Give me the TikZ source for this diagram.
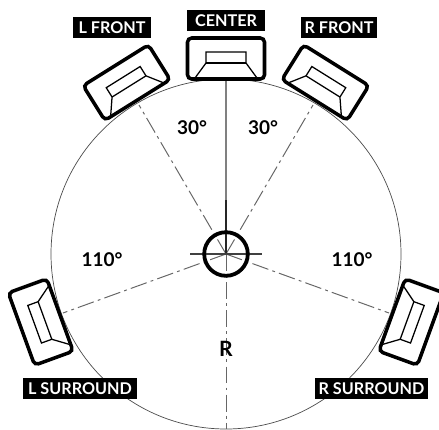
\documentclass[tikz,border=0pt]{standalone}
\usepackage{fontspec}
\setmainfont{Lato}
\usepackage{xcolor}
\usetikzlibrary{positioning,calc}

\begin{document}
\begin{tikzpicture}[
    x=0.025cm,y=-0.025cm,
    cabinet/.style={draw=black,fill=white,line width=2.5pt,rounded corners=3pt},
    horn/.style={draw=black,line width=0.9pt},
    ringline/.style={draw=black!70,line width=0.5pt},
    rayline/.style={draw=black!60,line width=0.7pt,dash pattern=on 12pt off 3pt on 2pt off 3pt},
    tagbox/.style={fill=black,text=white,font=\fontsize{11.5}{13}\selectfont\bfseries,
      inner sep=0pt,minimum height=15pt},
    angletext/.style={font=\fontsize{13.5}{15}\selectfont\bfseries,inner sep=0pt},
    speaker/.pic={
      \draw[cabinet] (-38.5,-41) rectangle (38.5,0);
      \draw[horn] (-31,-1) -- (-20,-16) -- (-20,-27) -- (20,-27) -- (20,-16) -- (31,-1);
      \draw[horn] (-20,-16) -- (20,-16);
    }
  ]
    \useasboundingbox (0,0) rectangle (439,429);

    \coordinate (mid) at (226,254);
    \coordinate (lfront) at (137.5,100);
    \coordinate (rfront) at (314.5,100);
    \coordinate (cfront) at (226,79);
    \coordinate (lsurr) at (60,315);
    \coordinate (rsurr) at (392,315);
    \coordinate (lray) at (139,105);
    \coordinate (rray) at (313,105);
    \coordinate (lsray) at (63,313);
    \coordinate (rsray) at (389,313);
    \coordinate (bottom) at (226,429);
    \coordinate (stem) at (226,200);

    \draw[ringline] (mid) circle (175);

    % rays from the listener
    \draw[rayline] (mid) -- (lray);
    \draw[rayline] (mid) -- (rray);
    \draw[rayline] (mid) -- (lsray);
    \draw[rayline] (mid) -- (rsray);
    \draw[rayline] (mid) -- (bottom);
    \draw[draw=black!50,line width=0.9pt] (cfront) -- (stem);
    \draw[draw=black!85,line width=1.3pt] (stem) -- (mid);

    % listener
    \coordinate (crossl) at (190,254);
    \coordinate (crossr) at (262,254);
    \draw[draw=black!75,line width=1pt] (crossl) -- (crossr);
    \node[draw=black,line width=2.7pt,circle,minimum size=31pt,inner sep=0pt] (head) at (mid) {};

    % speakers
    \pic at (cfront) {speaker};
    \pic[rotate=32] at (lfront) {speaker};
    \pic[rotate=-32] at (rfront) {speaker};
    \pic[rotate=110] at (lsurr) {speaker};
    \pic[rotate=-110] at (rsurr) {speaker};

    \node[tagbox,minimum width=55.5pt] (lfronttag) at (112,27.5) {L FRONT};
    \node[tagbox,minimum width=55.5pt] (centertag) at (226,20.5) {CENTER};
    \node[tagbox,minimum width=54pt] (rfronttag) at (339,27.5) {R FRONT};
    \node[tagbox,minimum width=81pt] (lsurrtag) at (80,388.5) {L SURROUND};
    \node[tagbox,minimum width=81pt] (rsurrtag) at (371.5,388.5) {R SURROUND};

    \node[angletext] (lfangle) at (192,128) {30°};
    \node[angletext] (rfangle) at (263,128) {30°};
    \node[angletext] (lsangle) at (102,260) {110°};
    \node[angletext] (rsangle) at (352,260) {110°};
    \node[angletext,font=\fontsize{15}{15}\selectfont\bfseries] (radius) at (226,349) {R};
  \end{tikzpicture}
\end{document}
